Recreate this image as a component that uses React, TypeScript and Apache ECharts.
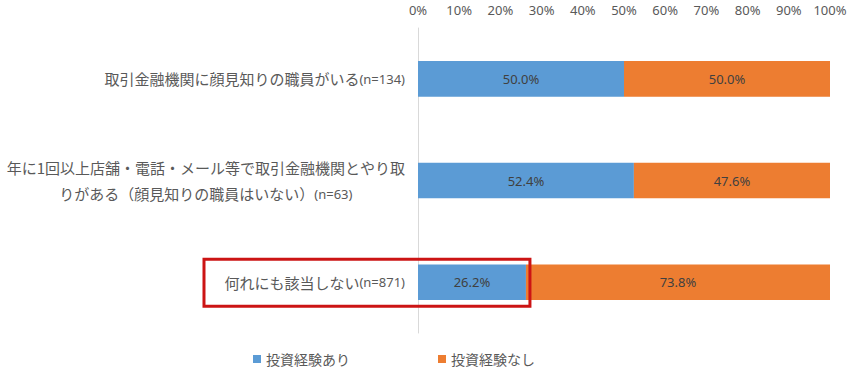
import React, { useEffect, useRef } from "react";
import * as echarts from "echarts";

const categories: string[] = [
  "{a|取引金融機関に顔見知りの職員がいる}{b|(n=134)}",
  "{a|年に1回以上店舗・電話・メール等で取引金融機関とやり取}\n{a|りがある（顔見知りの職員はいない）}{b|(n=63)}",
  "{a|何れにも該当しない}{b|(n=871)}",
];
const seriesNames: string[] = ["投資経験あり", "投資経験なし"];
const withExperience: number[] = [50.0, 52.4, 26.2];
const withoutExperience: number[] = [50.0, 47.6, 73.8];
const highlightIndex = 2;

export default function App() {
  const ref = useRef<HTMLDivElement>(null);
  useEffect(() => {
    document.body.style.margin = "0";
    if (!ref.current) return;
    const chart = echarts.init(ref.current, undefined, { renderer: "svg" });
    const cjk = '"Noto Sans CJK JP", "Noto Sans", sans-serif';
    const latin = '"Noto Sans", "Noto Sans CJK JP", sans-serif';
    const labelStyle = {
      show: true,
      position: "inside",
      color: "#404040",
      fontSize: 13,
      fontFamily: latin,
      formatter: (p: any) => p.value.toFixed(1) + "%",
    };
    chart.setOption({
      animation: false,
      color: ["#5B9BD5", "#ED7D31"],
      grid: { left: 418, right: 25, top: 28, bottom: 39, containLabel: false },
      xAxis: {
        type: "value",
        position: "top",
        min: 0,
        max: 100,
        interval: 10,
        axisLine: { show: false },
        axisTick: { show: false },
        splitLine: { show: false },
        axisLabel: {
          formatter: "{value}%",
          color: "#595959",
          fontSize: 13,
          fontFamily: latin,
          margin: 12,
        },
      },
      yAxis: {
        type: "category",
        inverse: true,
        data: categories,
        axisLine: { show: true, lineStyle: { color: "#d9d9d9", width: 1 } },
        axisTick: { show: false },
        axisLabel: {
          margin: 13,
          color: "#595959",
          lineHeight: 26,
          formatter: (v: string) => v,
          rich: {
            a: { fontSize: 15, fontFamily: cjk, color: "#595959", align: "center", lineHeight: 26 },
            b: { fontSize: 13, fontFamily: latin, color: "#595959", align: "center", lineHeight: 26 },
          },
        },
      },
      legend: {
        data: seriesNames,
        left: 248,
        top: 347,
        icon: "rect",
        itemWidth: 8,
        itemHeight: 8,
        itemGap: 88,
        textStyle: { color: "#595959", fontSize: 14, fontFamily: cjk },
      },
      series: [
        {
          name: seriesNames[0],
          type: "bar",
          stack: "total",
          barWidth: "35%",
          data: withExperience,
          label: labelStyle,
        },
        {
          name: seriesNames[1],
          type: "bar",
          stack: "total",
          barWidth: "35%",
          data: withoutExperience,
          label: labelStyle,
        },
      ],
    });
    const pt = chart.convertToPixel({ xAxisIndex: 0, yAxisIndex: 0 }, [
      withExperience[highlightIndex],
      highlightIndex,
    ]) as number[];
    if (pt) {
      const left = 204;
      const right = pt[0] + 4;
      const top = pt[1] - 23;
      const bottom = pt[1] + 24;
      chart.setOption({
        graphic: [
          {
            type: "rect",
            shape: { x: left, y: top, width: right - left, height: bottom - top },
            style: { fill: "none", stroke: "#cc1414", lineWidth: 3 },
            z: 100,
          },
        ],
      });
    }
    return () => chart.dispose();
  }, []);
  return <div ref={ref} style={{ width: 855, height: 372 }} />;
}
